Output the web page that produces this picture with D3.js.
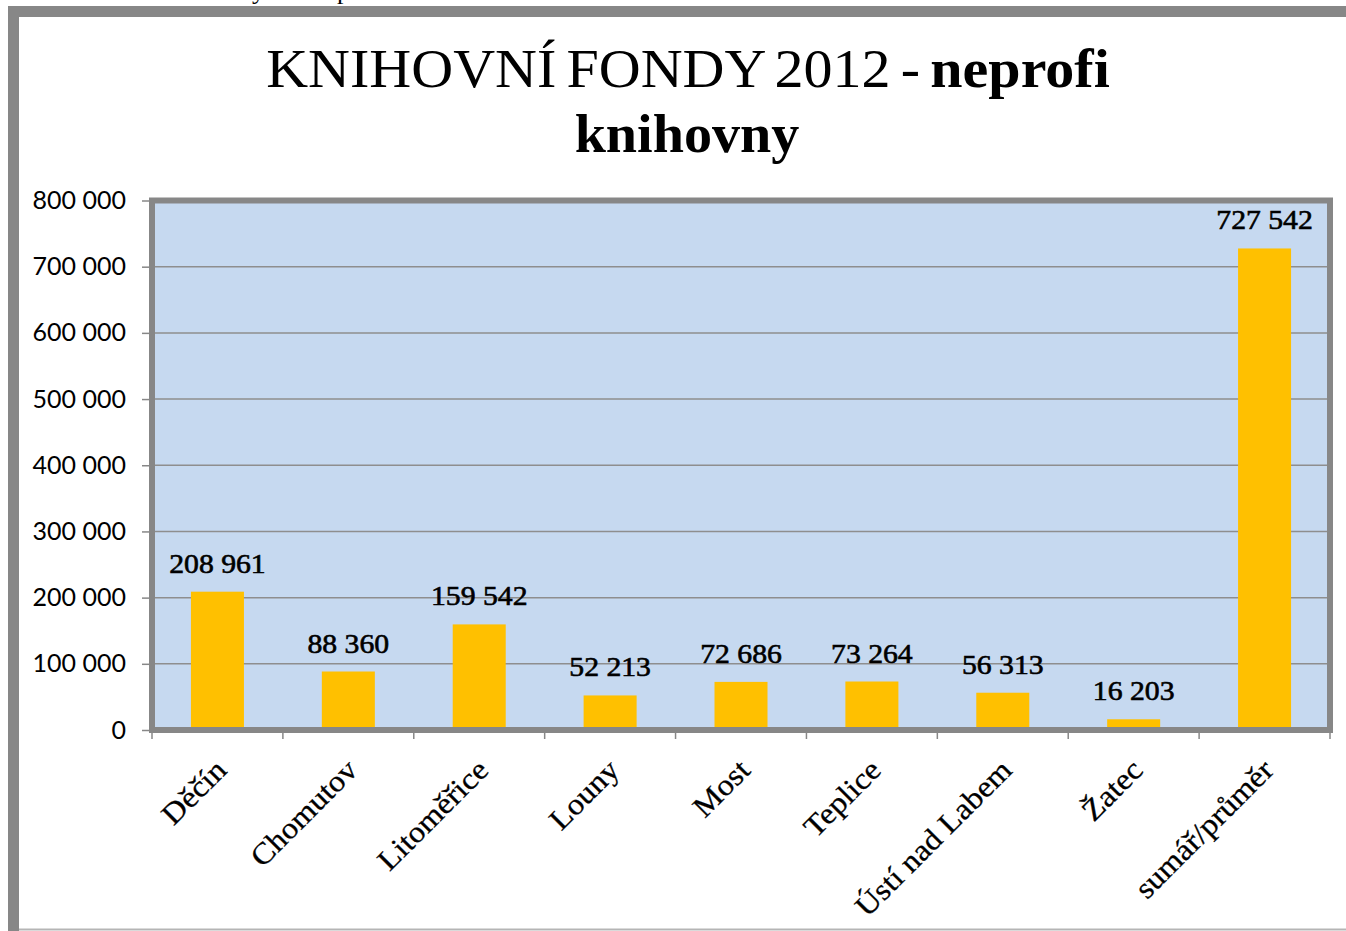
<!DOCTYPE html>
<html><head><meta charset="utf-8">
<script src="https://cdn.jsdelivr.net/npm/d3@7"></script>
<style>html,body{margin:0;padding:0;background:#fff;overflow:hidden}</style>
</head><body>
<svg id="c" width="1346" height="931"></svg>
<script>
const categories = ["Děčín","Chomutov","Litoměřice","Louny","Most","Teplice","Ústí nad Labem","Žatec","sumář/průměr"];
const values = [208961, 88360, 159542, 52213, 72686, 73264, 56313, 16203, 727542];
const yTicks = [0,100000,200000,300000,400000,500000,600000,700000,800000];
const titleLine1Regular = "KNIHOVNÍ FONDY 2012 - ";
const titleLine1Bold = "neprofi";
const titleLine2 = "knihovny";

const svg = d3.select("#c");
const fmt = v => d3.format(",")(v).replace(/,/g, " ");

// outer frame
svg.append("rect").attr("x",13.5).attr("y",11.5).attr("width",1500).attr("height",1100)
  .attr("fill","#fff").attr("stroke","#878787").attr("stroke-width",11);
svg.append("line").attr("x1",19).attr("x2",1346).attr("y1",929.5).attr("y2",929.5)
  .attr("stroke","#b5b5b5").attr("stroke-width",2);

// cut-off text above frame (only descenders visible, as in the reference)
svg.append("text").attr("y",-1).attr("font-family","Liberation Serif")
  .attr("font-size",26).attr("fill","#000")
  .selectAll("tspan").data([["y",252],["p",337]]).join("tspan")
  .attr("x",d=>d[1]).text(d=>d[0]);

const L=152, R=1330, T=200.5, B=730;
const x = d3.scaleBand().domain(categories).range([L,R]).paddingInner(0.595).paddingOuter(0.2975);
const y = d3.scaleLinear().domain([0,800000]).range([B,T]);

// plot background
svg.append("rect").attr("x",L).attr("y",T).attr("width",R-L).attr("height",B-T).attr("fill","#c6d9f0");

// gridlines
svg.append("g").selectAll("line").data(yTicks.slice(1,-1)).join("line")
  .attr("x1",L).attr("x2",R).attr("y1",d=>y(d)).attr("y2",d=>y(d))
  .attr("stroke","#8e8e8e").attr("stroke-width",1.5);

// bars
svg.append("g").selectAll("rect").data(values).join("rect")
  .attr("x",(d,i)=>x(categories[i])).attr("width",x.bandwidth())
  .attr("y",d=>y(d)).attr("height",d=>B-y(d)).attr("fill","#ffc000");

// plot border
svg.append("rect").attr("x",L).attr("y",T).attr("width",R-L).attr("height",B-T)
  .attr("fill","none").attr("stroke","#878787").attr("stroke-width",6);

// y axis
const yAxis = d3.axisLeft(y).tickValues(yTicks).tickSize(7).tickPadding(16).tickFormat(fmt);
const gy = svg.append("g").attr("transform",`translate(${L-3},0)`).call(yAxis);
gy.select(".domain").remove();
gy.selectAll(".tick line").attr("stroke","#878787").attr("stroke-width",1.5);
gy.selectAll(".tick text").attr("font-family","Lato").attr("font-size",25).attr("fill","#000");

// x axis ticks at band boundaries
const step = x.step();
const bounds = categories.map(c => x(c) - step*x.paddingInner()/2).concat([R]);
svg.append("g").selectAll("line").data(bounds).join("line")
  .attr("x1",d=>d).attr("x2",d=>d).attr("y1",B+3).attr("y2",B+9)
  .attr("stroke","#878787").attr("stroke-width",1.5);

// category labels
svg.append("g").selectAll("text").data(categories).join("text")
  .attr("transform",c=>`translate(${x(c)+x.bandwidth()/2-4},${B+27}) rotate(-45) scale(1.08,1)`)
  .attr("text-anchor","end").attr("dy","0.7em")
  .attr("font-family","Liberation Serif").attr("font-size",30).attr("fill","#000")
  .attr("stroke","#000").attr("stroke-width",0.3)
  .text(c=>c);

// value labels
svg.append("g").selectAll("text").data(values).join("text")
  .attr("transform",(d,i)=>`translate(${x(categories[i])+x.bandwidth()/2},${y(d)-19}) scale(1.1,1)`)
  .attr("text-anchor","middle")
  .attr("font-family","Liberation Serif").attr("font-size",27).attr("fill","#000")
  .attr("stroke","#000").attr("stroke-width",0.6)
  .text(fmt);

// title
const t1 = svg.append("text").attr("transform","translate(688,87) scale(1.075,1)").attr("text-anchor","middle")
  .attr("font-family","Liberation Serif").attr("font-size",54).attr("fill","#000")
  .attr("word-spacing",-4);
t1.append("tspan").text(titleLine1Regular);
t1.append("tspan").attr("font-weight","bold").text(titleLine1Bold);
svg.append("text").attr("transform","translate(687,152) scale(1.04,1)").attr("text-anchor","middle")
  .attr("font-family","Liberation Serif").attr("font-size",54).attr("font-weight","bold").attr("fill","#000")
  .text(titleLine2);
</script>
</body></html>
